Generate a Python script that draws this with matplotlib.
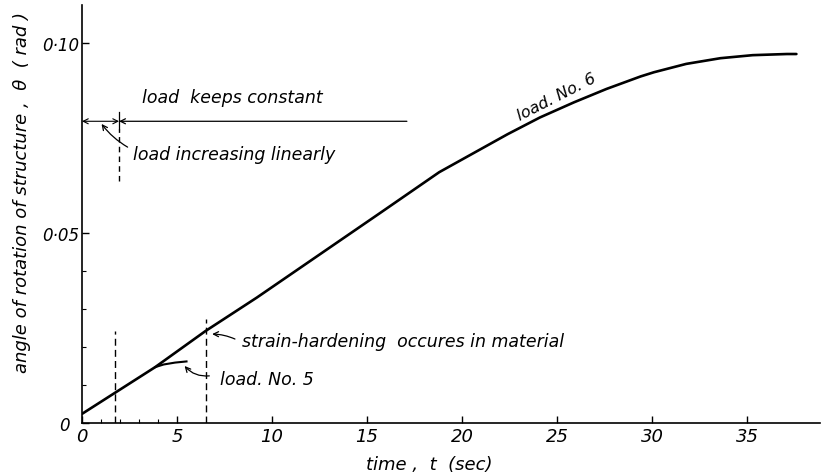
import matplotlib
matplotlib.use("Agg")
import matplotlib.pyplot as plt
import matplotlib.transforms as mtransforms

# ---- data ----
t_main = [0, 3.85, 6.5, 9.2, 15.7, 18.8, 20.6, 22.4, 24.1, 25.9, 27.6, 29.4,
          30.1, 31.8, 33.6, 35.3, 37.1, 37.6]
theta_main = [0.0024, 0.0147, 0.0242, 0.0330, 0.0553, 0.0660, 0.0710, 0.0760,
              0.0804, 0.0844, 0.0879, 0.0912, 0.0923, 0.0945, 0.0960, 0.0968,
              0.0971, 0.0971]

t_load5 = [3.85, 4.3, 4.9, 5.5]
theta_load5 = [0.0147, 0.0154, 0.0159, 0.0162]

x_major = [0, 5, 10, 15, 20, 25, 30, 35]
x_minor = [1, 2, 3, 4]
y_major = [0, 0.05, 0.10]
y_major_labels = ["0", "0·05", "0·10"]
y_minor = [0.01, 0.02, 0.03, 0.04]

t_linear_end = 1.95      # end of linear load increase
t_hardening = 6.5        # strain-hardening
t_first_dash = 1.73
theta_constant = 0.0794  # level of the load-history line
t_constant_end = 17.1

plt.rcParams["font.family"] = ["DejaVu Sans"]
plt.rcParams["font.style"] = "oblique"

fig = plt.figure(figsize=(8.24, 4.77), dpi=100)
ax = fig.add_axes([82 / 824, (477 - 424) / 477, (820 - 82) / 824, (424 - 6) / 477])
ax.set_xlim(0, (820 - 82) / 19)
ax.set_ylim(0, 0.11)

for s in ["top", "right"]:
    ax.spines[s].set_visible(False)
for s in ["left", "bottom"]:
    ax.spines[s].set_linewidth(1.2)

ax.set_xticks(x_major)
ax.set_xticks(x_minor, minor=True)
ax.set_yticks(y_major)
ax.set_yticklabels(y_major_labels)
ax.set_yticks(y_minor, minor=True)
ax.tick_params(which="major", direction="in", length=5, width=1.0, labelsize=13, pad=3)
ax.tick_params(axis="y", which="major", labelsize=12, pad=2)
ax.tick_params(which="minor", direction="in", length=3, width=0.8)

# shift the y "0" label left, as in the reference
zero_lbl = ax.get_yticklabels()[0]
zero_lbl.set_transform(zero_lbl.get_transform() +
                       mtransforms.ScaledTranslation(-9 / 100, 0, fig.dpi_scale_trans))

# curves
ax.plot(t_main, theta_main, color="black", lw=1.9, solid_capstyle="round",
        solid_joinstyle="round")
ax.plot(t_load5, theta_load5, color="black", lw=1.5)

# dashed verticals
ax.plot([t_first_dash, t_first_dash], [0, 0.0242], color="black", lw=1.0, ls=(0, (5, 3)))
ax.plot([t_hardening, t_hardening], [0, 0.0274], color="black", lw=1.0, ls=(0, (5, 3)))
ax.plot([t_linear_end, t_linear_end], [0.0637, 0.0775], color="black", lw=1.0, ls=(0, (4, 3)))
ax.plot([t_linear_end, t_linear_end], [0.0775, 0.0818], color="black", lw=0.9)

# load-history line with arrows
ax.annotate("", xy=(0, theta_constant), xytext=(t_linear_end, theta_constant),
            arrowprops=dict(arrowstyle="<->", lw=0.8, color="black",
                            shrinkA=0, shrinkB=0, mutation_scale=9))
ax.annotate("", xy=(t_linear_end, theta_constant), xytext=(t_constant_end, theta_constant),
            arrowprops=dict(arrowstyle="->", lw=0.9, color="black",
                            shrinkA=0, shrinkB=0, mutation_scale=9))

fs = 12.5
ax.text(3.15, 0.0858, "load  keeps constant", fontsize=fs, va="center", ha="left")
ax.text(2.7, 0.0708, "load increasing linearly", fontsize=fs, va="center", ha="left")
ax.annotate("", xy=(1.03, 0.0787), xytext=(2.4, 0.0726),
            arrowprops=dict(arrowstyle="->", lw=0.9, color="black", shrinkA=0, shrinkB=0,
                            mutation_scale=9, connectionstyle="arc3,rad=-0.1"))

ax.text(8.4, 0.0216, "strain-hardening  occures in material", fontsize=fs, va="center", ha="left")
ax.annotate("", xy=(6.85, 0.0234), xytext=(8.05, 0.0221),
            arrowprops=dict(arrowstyle="->", lw=0.9, color="black", shrinkA=0, shrinkB=0,
                            mutation_scale=9, connectionstyle="arc3,rad=0.1"))

ax.text(7.26, 0.0116, "load. No. 5", fontsize=fs, va="center", ha="left")
ax.annotate("", xy=(5.4, 0.0150), xytext=(6.7, 0.0124),
            arrowprops=dict(arrowstyle="->", lw=0.9, color="black", shrinkA=0, shrinkB=0,
                            mutation_scale=9, connectionstyle="arc3,rad=-0.25"))

ax.text(24.98, 0.0859, "load. No. 6", fontsize=11.5, va="center", ha="center",
        rotation=27, rotation_mode="anchor")

ax.set_xlabel("time ,  t  (sec)", fontsize=13)
ax.xaxis.set_label_coords((429 - 82) / 738, -(465 - 424) / 418)
ax.set_ylabel("angle of rotation of structure ,  θ  ( rad )", fontsize=13)
ax.yaxis.set_label_coords(-(82 - 22) / 738, (424 - 193) / 418)
ax.xaxis.label.set_va("center")
ax.yaxis.label.set_va("center")

fig.savefig("out.png", dpi=100)
